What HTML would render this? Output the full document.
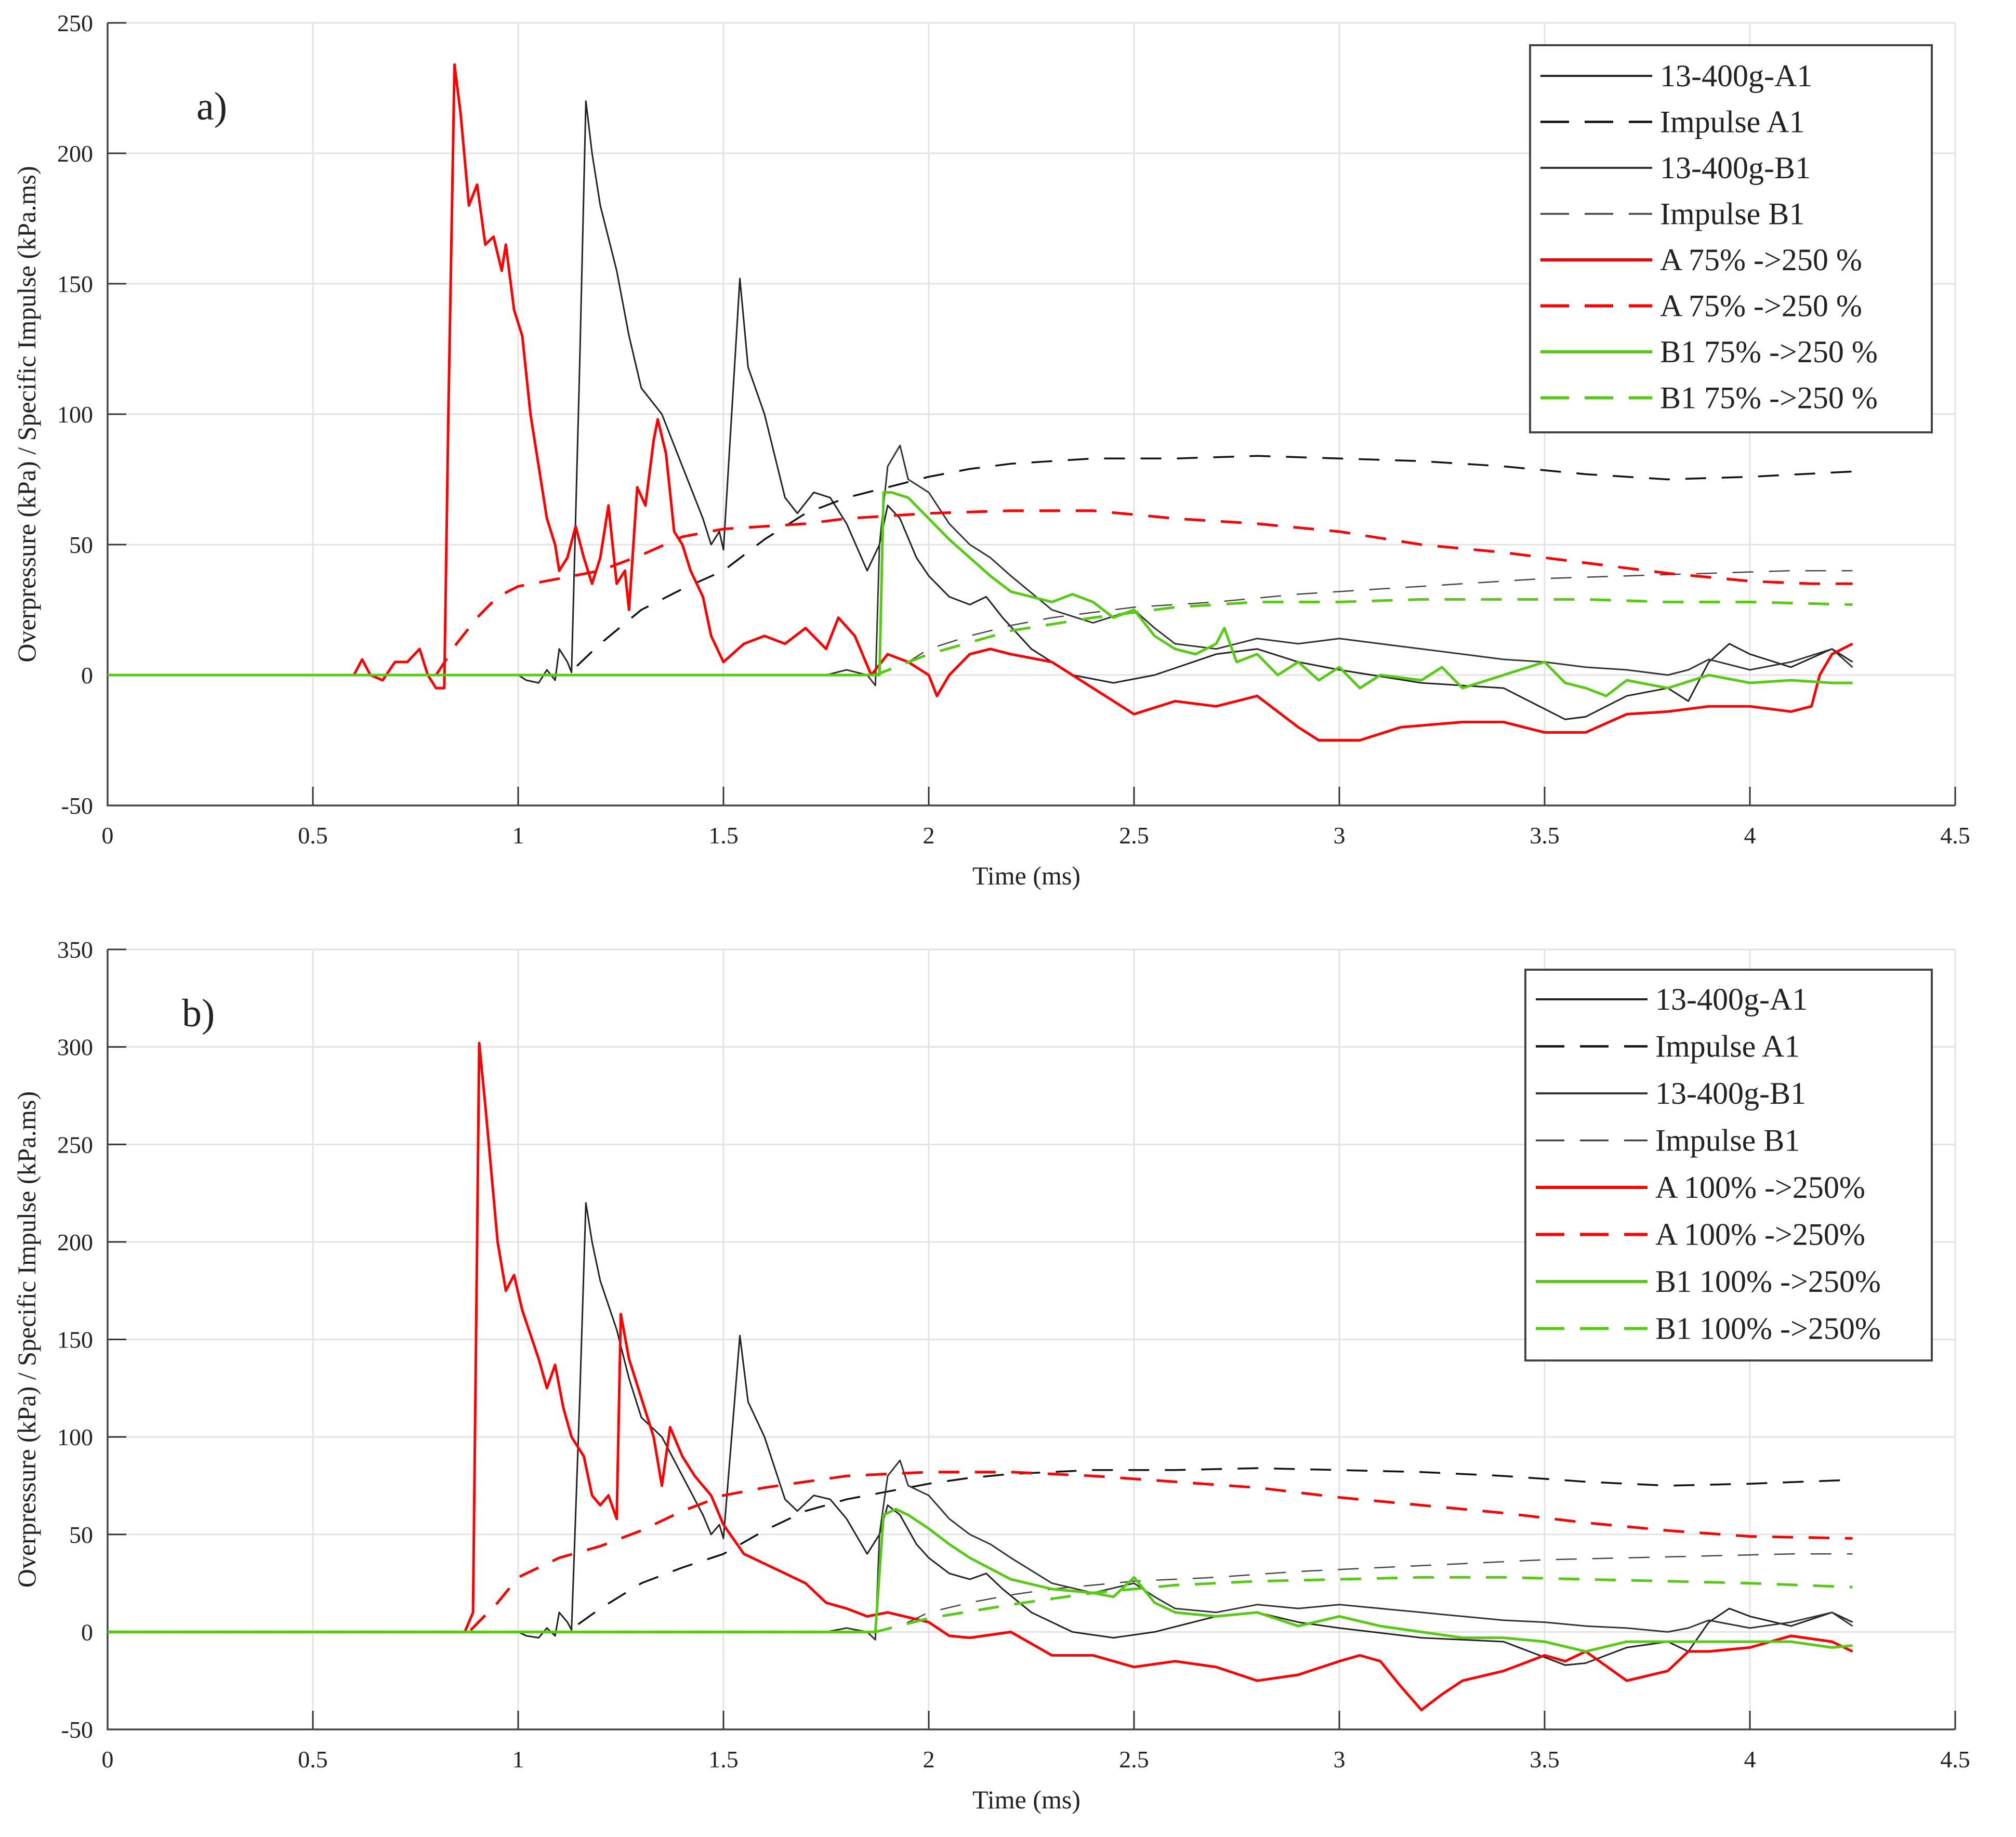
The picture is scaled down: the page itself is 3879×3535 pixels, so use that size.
<!DOCTYPE html>
<html><head><meta charset="utf-8"><style>
html,body{margin:0;padding:0;background:#fff}
svg text{font-family:"Liberation Serif",serif;fill:#222}
</style></head><body>
<svg id="chart" width="3879" height="3530" viewBox="0 0 3879 3530" xmlns="http://www.w3.org/2000/svg"></svg>
<script>
// ---- data (time in ms, values in kPa / kPa.ms) ----
const xTicks=[0,0.5,1,1.5,2,2.5,3,3.5,4,4.5];
const yTicksA=[-50,0,50,100,150,200,250];
const yTicksB=[-50,0,50,100,150,200,250,300,350];
const a1T=[0,1.0,1.02,1.05,1.07,1.09,1.1,1.12,1.13,1.15,1.165,1.18,1.2,1.24,1.27,1.3,1.35,1.4,1.45,1.47,1.49,1.5,1.52,1.54,1.56,1.6,1.65,1.68,1.72,1.76,1.8,1.85,1.88,1.9,1.93,1.97,2.0,2.05,2.1,2.14,2.18,2.25,2.35,2.45,2.55,2.7,2.8,2.9,3.0,3.2,3.4,3.55,3.6,3.7,3.8,3.85,3.9,3.95,4.0,4.1,4.2,4.25];
const a1V=[0,0,-2,-3,2,-2,10,5,1,120,220,200,180,155,130,110,100,80,60,50,55,48,100,152,118,100,68,62,70,68,58,40,50,65,60,45,38,30,27,30,22,10,0,-3,0,8,10,5,2,-3,-5,-17,-16,-8,-5,-10,5,12,8,3,10,5];
const b1T=[0,1.75,1.8,1.85,1.87,1.88,1.9,1.93,1.95,2.0,2.05,2.1,2.15,2.2,2.3,2.4,2.5,2.55,2.6,2.7,2.8,2.9,3.0,3.1,3.2,3.3,3.4,3.5,3.6,3.7,3.8,3.85,3.9,4.0,4.1,4.2,4.25];
const b1V=[0,0,2,0,-4,50,80,88,75,70,58,50,45,38,25,20,25,18,12,10,14,12,14,12,10,8,6,5,3,2,0,2,6,2,5,10,3];
const impA1T=[0,1.12,1.2,1.3,1.4,1.5,1.6,1.7,1.8,1.9,2.0,2.1,2.2,2.4,2.6,2.8,3.0,3.2,3.4,3.6,3.8,4.0,4.25];
const impA1V=[0,0,12,25,33,40,52,62,68,72,76,79,81,83,83,84,83,82,80,77,75,76,78];
const impB1T=[0,1.87,1.95,2.0,2.1,2.2,2.3,2.5,2.7,2.9,3.1,3.3,3.5,3.7,3.9,4.1,4.25];
const impB1V=[0,0,5,10,15,19,22,26,28,31,33,35,37,38,39,40,40];
// panel a simulations
const redAT=[0,0.6,0.62,0.64,0.67,0.7,0.73,0.76,0.78,0.8,0.82,0.83,0.845,0.86,0.88,0.9,0.92,0.94,0.96,0.97,0.99,1.01,1.03,1.05,1.07,1.09,1.1,1.12,1.14,1.16,1.18,1.2,1.22,1.24,1.26,1.27,1.29,1.31,1.33,1.34,1.36,1.38,1.4,1.42,1.45,1.47,1.5,1.55,1.6,1.65,1.7,1.75,1.78,1.82,1.86,1.9,1.95,2.0,2.02,2.05,2.1,2.15,2.2,2.3,2.4,2.5,2.6,2.7,2.8,2.9,2.95,3.05,3.15,3.3,3.4,3.5,3.6,3.7,3.8,3.9,4.0,4.1,4.15,4.17,4.2,4.25];
const redAV=[0,0,6,0,-2,5,5,10,0,-5,-5,100,234,215,180,188,165,168,155,165,140,130,100,80,60,50,40,45,57,45,35,45,65,35,40,25,72,65,90,98,85,55,50,40,30,15,5,12,15,12,18,10,22,15,0,8,5,0,-8,0,8,10,8,5,-5,-15,-10,-12,-8,-20,-25,-25,-20,-18,-18,-22,-22,-15,-14,-12,-12,-14,-12,0,8,12];
const redAdT=[0,0.8,0.85,0.9,0.95,1.0,1.1,1.2,1.3,1.4,1.5,1.6,1.7,1.8,1.9,2.0,2.2,2.4,2.6,2.8,3.0,3.2,3.4,3.6,3.8,4.0,4.15,4.25];
const redAdV=[0,0,12,22,30,34,37,40,46,53,56,57,58,60,61,62,63,63,60,58,55,50,47,43,39,36,35,35];
const grnAT=[0,1.86,1.88,1.89,1.91,1.95,2.0,2.05,2.1,2.15,2.2,2.3,2.35,2.4,2.45,2.5,2.55,2.6,2.65,2.7,2.72,2.75,2.8,2.85,2.9,2.95,3.0,3.05,3.1,3.2,3.25,3.3,3.4,3.5,3.55,3.6,3.65,3.7,3.8,3.9,4.0,4.1,4.2,4.25];
const grnAV=[0,0,0,70,70,68,60,52,45,38,32,28,31,28,22,25,15,10,8,12,18,5,8,0,5,-2,3,-5,0,-2,3,-5,0,5,-3,-5,-8,-2,-5,0,-3,-2,-3,-3];
const grnAdT=[0,1.87,2.0,2.2,2.4,2.6,2.8,3.0,3.2,3.4,3.6,3.8,4.0,4.25];
const grnAdV=[0,0,8,17,22,26,28,28,29,29,29,28,28,27];
// panel b simulations
const redBT=[0,0.87,0.89,0.9,0.905,0.92,0.95,0.97,0.99,1.01,1.05,1.07,1.09,1.11,1.13,1.16,1.18,1.2,1.22,1.24,1.25,1.27,1.3,1.33,1.35,1.37,1.4,1.43,1.47,1.5,1.55,1.6,1.65,1.7,1.75,1.8,1.85,1.9,2.0,2.05,2.1,2.2,2.3,2.4,2.5,2.6,2.7,2.8,2.9,3.0,3.05,3.1,3.15,3.2,3.25,3.3,3.4,3.5,3.55,3.6,3.7,3.8,3.85,3.9,4.0,4.1,4.2,4.25];
const redBV=[0,0,10,200,302,270,200,175,183,165,140,125,137,115,100,90,70,65,70,58,163,140,120,100,75,105,90,80,70,55,40,35,30,25,15,12,8,10,5,-2,-3,0,-12,-12,-18,-15,-18,-25,-22,-15,-12,-15,-28,-40,-32,-25,-20,-12,-15,-10,-25,-20,-10,-10,-8,-2,-5,-10];
const redBdT=[0,0.88,0.95,1.0,1.1,1.2,1.3,1.4,1.5,1.6,1.7,1.8,1.9,2.0,2.2,2.4,2.6,2.8,3.0,3.2,3.4,3.6,3.8,4.0,4.25];
const redBdV=[0,0,15,28,38,44,52,62,70,74,77,80,81,82,82,80,77,74,69,65,61,56,52,49,48];
const grnBT=[0,1.87,1.89,1.92,1.95,2.0,2.05,2.1,2.2,2.3,2.4,2.45,2.5,2.55,2.6,2.7,2.8,2.9,3.0,3.1,3.2,3.3,3.4,3.5,3.6,3.7,3.8,3.9,4.0,4.1,4.2,4.25];
const grnBV=[0,0,60,63,60,53,45,38,27,22,20,18,28,15,10,8,10,3,8,3,0,-3,-3,-5,-10,-5,-5,-5,-5,-5,-8,-7];
const grnBdT=[0,1.87,2.0,2.2,2.4,2.6,2.8,3.0,3.2,3.4,3.6,3.8,4.0,4.25];
const grnBdV=[0,0,7,14,20,24,26,27,28,28,27,26,25,23];
const legendA=["13-400g-A1","Impulse A1","13-400g-B1","Impulse B1","A 75% ->250 %","A 75% ->250 %","B1 75% ->250 %","B1 75% ->250 %"];
const legendB=["13-400g-A1","Impulse A1","13-400g-B1","Impulse B1","A 100% ->250%","A 100% ->250%","B1 100% ->250%","B1 100% ->250%"];

const NS="http://www.w3.org/2000/svg";
const svg=document.getElementById('chart');
function mk(tag,attrs,parent){const e=document.createElementNS(NS,tag);for(const k in attrs)e.setAttribute(k,attrs[k]);(parent||svg).appendChild(e);return e;}
const X0=207,XS=790;
const styles=[
 {c:'#222',w:3,d:''},{c:'#111',w:3.5,d:'40 30'},{c:'#333',w:3,d:''},{c:'#444',w:2.5,d:'40 30'},
 {c:'#ff0000',w:5,d:''},{c:'#ff0000',w:5,d:'40 30'},{c:'#55cc11',w:5,d:''},{c:'#55cc11',w:5,d:'40 30'}];

function panel(id,yTop,yBot,yMin,yMax,yTicks,series,legend,lg,label,labelPos){
  const g=mk('g',{});
  
  
  const xs=t=>X0+t*XS;
  const ys=v=>yBot-(v-yMin)*(yBot-yTop)/(yMax-yMin);
  const xR=xs(4.5);
  for(const t of xTicks){const l=mk('line',{x1:xs(t),x2:xs(t),y1:yTop,y2:yBot,stroke:'#e3e3e3','stroke-width':3},g);
    
    const tk=mk('line',{x1:xs(t),x2:xs(t),y1:yBot,y2:yBot-36,stroke:'#333','stroke-width':3},g);
    
    const tx=mk('text',{x:xs(t),y:yBot+73,'text-anchor':'middle','font-size':46},g);tx.textContent=t;
    }
  for(const v of yTicks){const l=mk('line',{x1:X0,x2:xR,y1:ys(v),y2:ys(v),stroke:'#e3e3e3','stroke-width':3},g);
    
    const tk=mk('line',{x1:X0,x2:X0+36,y1:ys(v),y2:ys(v),stroke:'#333','stroke-width':3},g);
    
    const tx=mk('text',{x:X0-28,y:ys(v)+16,'text-anchor':'end','font-size':46},g);tx.textContent=v;
    }
  const ax=mk('path',{d:`M${X0},${yTop}V${yBot}H${xR}`,fill:'none',stroke:'#444','stroke-width':3.5},g);
  
  series.forEach((s,i)=>{const st=styles[i];
    const p=mk('path',{d:s[0].map((t,j)=>(j?'L':'M')+xs(t).toFixed(1)+','+ys(s[1][j]).toFixed(1)).join(''),fill:'none',stroke:st.c,'stroke-width':st.w,'stroke-dasharray':st.d,'stroke-linejoin':'round'},g);
    
    });
  const xt=mk('text',{x:1975,y:yBot+152,'text-anchor':'middle','font-size':50},g);xt.textContent='Time (ms)';
  
  const yc=(yTop+yBot)/2;
  const yt=mk('text',{x:0,y:0,'text-anchor':'middle','font-size':50,transform:`translate(68,${yc}) rotate(-90)`},g);
  yt.textContent='Overpressure (kPa) / Specific Impulse (kPa.ms)';
  
  const pl=mk('text',{x:labelPos[0],y:labelPos[1],'font-size':76},g);pl.textContent=label;
  
  const lgG=mk('g',{},g);
  
  const box=mk('rect',{x:lg.x,y:lg.y,width:lg.w,height:lg.h,fill:'#fff',stroke:'#444','stroke-width':4},lgG);
  
  legend.forEach((name,i)=>{const st=styles[i];const ry=lg.y+lg.r0+i*lg.dr;
    const e=mk('g',{},lgG);
    mk('line',{x1:lg.x+20,x2:lg.x+235,y1:ry,y2:ry,stroke:st.c,'stroke-width':st.w+1,'stroke-dasharray':st.d?'55 30':''},e);
    const t=mk('text',{x:lg.x+250,y:ry+20,'font-size':60},e);t.textContent=name;});
}
panel('panel-a',44,1550,-50,250,yTicksA,
 [[a1T,a1V],[impA1T,impA1V],[b1T,b1V],[impB1T,impB1V],[redAT,redAV],[redAdT,redAdV],[grnAT,grnAV],[grnAdT,grnAdV]],
 legendA,{x:2944,y:87,w:773,h:745,r0:59,dr:88.5},'a)',[378,230]);
panel('panel-b',1827,3328,-50,350,yTicksB,
 [[a1T,a1V],[impA1T,impA1V],[b1T,b1V],[impB1T,impB1V],[redBT,redBV],[redBdT,redBdV],[grnBT,grnBV],[grnBdT,grnBdV]],
 legendB,{x:2935,y:1866,w:782,h:752,r0:57,dr:90.5},'b)',[350,1975]);
</script>
</body></html>
